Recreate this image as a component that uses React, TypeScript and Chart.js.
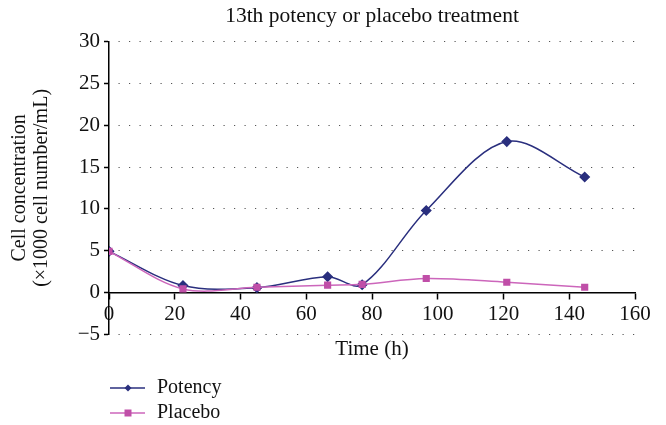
import React, { useEffect, useRef } from "react";
import { Chart, registerables } from "chart.js";

Chart.register(...registerables);

const TITLE = "13th potency or placebo treatment";
const X_TITLE = "Time (h)";
const Y_TITLE = ["Cell concentration", "(\u00d71000 cell number/mL)"];

const potencyTimes = [0, 22.5, 45, 66.5, 77, 96.5, 121, 144.7];
const potencyValues = [4.9, 0.8, 0.55, 1.85, 0.9, 9.8, 18.05, 13.8];
const placeboTimes = [0, 22.5, 45, 66.5, 77, 96.5, 121, 144.7];
const placeboValues = [4.9, 0.4, 0.6, 0.85, 0.95, 1.65, 1.2, 0.6];

const SERIES_NAMES = ["Potency", "Placebo"];
const SERIES_COLORS = ["#2a2f7e", "#c04fa8"];
const LINE_COLORS = ["#2a2f7e", "#cc66bb"];

const FONT = "'Liberation Serif', 'DejaVu Serif', serif";

const legendPlugin = {
  id: "customLegend",
  afterDraw(chart: any) {
    const ctx = chart.ctx;
    const x0 = chart.chartArea.left + 1;
    const rows = [388, 413];
    ctx.save();
    chart.data.datasets.forEach((ds: any, i: number) => {
      const y = rows[i];
      ctx.strokeStyle = ds.borderColor;
      ctx.lineWidth = 1.5;
      ctx.beginPath();
      ctx.moveTo(x0, y);
      ctx.lineTo(x0 + 35, y);
      ctx.stroke();
      ctx.fillStyle = ds.pointBackgroundColor;
      ctx.beginPath();
      const cx = x0 + 18;
      if (ds.pointStyle === "rectRot") {
        const r = 3.5;
        ctx.moveTo(cx, y - r);
        ctx.lineTo(cx + r, y);
        ctx.lineTo(cx, y + r);
        ctx.lineTo(cx - r, y);
        ctx.closePath();
      } else {
        ctx.rect(cx - 3.5, y - 3.5, 7, 7);
      }
      ctx.fill();
      ctx.fillStyle = "#111";
      ctx.font = `20px ${FONT}`;
      ctx.textBaseline = "middle";
      ctx.textAlign = "left";
      ctx.fillText(ds.label, x0 + 47, y);
    });
    ctx.restore();
  },
};

export default function App() {
  const ref = useRef<HTMLCanvasElement | null>(null);

  useEffect(() => {
    if (!ref.current) return;
    const chart = new Chart(ref.current, {
      type: "line",
      data: {
        datasets: [
          {
            label: SERIES_NAMES[0],
            data: potencyTimes.map((t, i) => ({ x: t, y: potencyValues[i] })),
            borderColor: LINE_COLORS[0],
            backgroundColor: SERIES_COLORS[0],
            pointBackgroundColor: SERIES_COLORS[0],
            pointBorderColor: SERIES_COLORS[0],
            pointStyle: "rectRot",
            pointRadius: 4.5,
            borderWidth: 1.5,
            tension: 0.33,
            order: 1,
          },
          {
            label: SERIES_NAMES[1],
            data: placeboTimes.map((t, i) => ({ x: t, y: placeboValues[i] })),
            borderColor: LINE_COLORS[1],
            backgroundColor: SERIES_COLORS[1],
            pointBackgroundColor: SERIES_COLORS[1],
            pointBorderColor: SERIES_COLORS[1],
            pointStyle: "rect",
            pointRadius: 4,
            borderWidth: 1.5,
            tension: 0.33,
            order: 0,
          },
        ],
      },
      options: {
        animation: false,
        responsive: false,
        maintainAspectRatio: false,
        layout: { padding: { left: 0, right: 31, top: 0, bottom: 91 } },
        plugins: {
          legend: { display: false },
          tooltip: { enabled: false },
          title: {
            display: true,
            text: TITLE,
            fullSize: false,
            color: "#111",
            font: { family: FONT, size: 21.5, weight: "normal" },
            padding: { top: 3, bottom: 13 },
          },
        },
        scales: {
          x: {
            type: "linear",
            position: { y: 0 },
            min: 0,
            max: 160,
            ticks: {
              stepSize: 20,
              color: "#111",
              font: { family: FONT, size: 21 },
              padding: 4,
              maxRotation: 0,
            },
            grid: {
              drawOnChartArea: false,
              drawTicks: true,
              tickLength: 6,
              tickColor: "#000",
              tickWidth: 1.5,
            },
            border: { display: true, color: "#000", width: 1.5 },
            title: {
              display: true,
              text: X_TITLE,
              color: "#111",
              font: { family: FONT, size: 21 },
              padding: 0,
            },
            afterFit: (s: any) => {
              s.height = 70;
            },
          },
          y: {
            type: "linear",
            min: -5,
            max: 30,
            ticks: {
              stepSize: 5,
              color: "#111",
              font: { family: FONT, size: 21 },
              padding: 4,
              callback: (v: any) => (v < 0 ? "\u2212" + Math.abs(v) : String(v)),
            },
            grid: {
              drawTicks: true,
              tickLength: 5,
              tickColor: "#000",
              tickWidth: 1.5,
              color: "#555",
              lineWidth: 1,
            },
            border: { display: true, color: "#000", width: 1.5, dash: [1.2, 9.3], dashOffset: -9 },
            title: {
              display: true,
              text: Y_TITLE,
              color: "#111",
              font: { family: FONT, size: 20, lineHeight: 1.1 },
              padding: { top: 9, bottom: 0 },
            },
            afterFit: (s: any) => {
              s.width = 109;
            },
          },
        },
      },
      plugins: [legendPlugin],
    } as any);
    return () => chart.destroy();
  }, []);

  return (
    <div style={{ position: "absolute", left: 0, top: 0, width: 666, height: 425, background: "#fff" }}>
      <canvas ref={ref} width={666} height={425} style={{ width: 666, height: 425 }} />
    </div>
  );
}
